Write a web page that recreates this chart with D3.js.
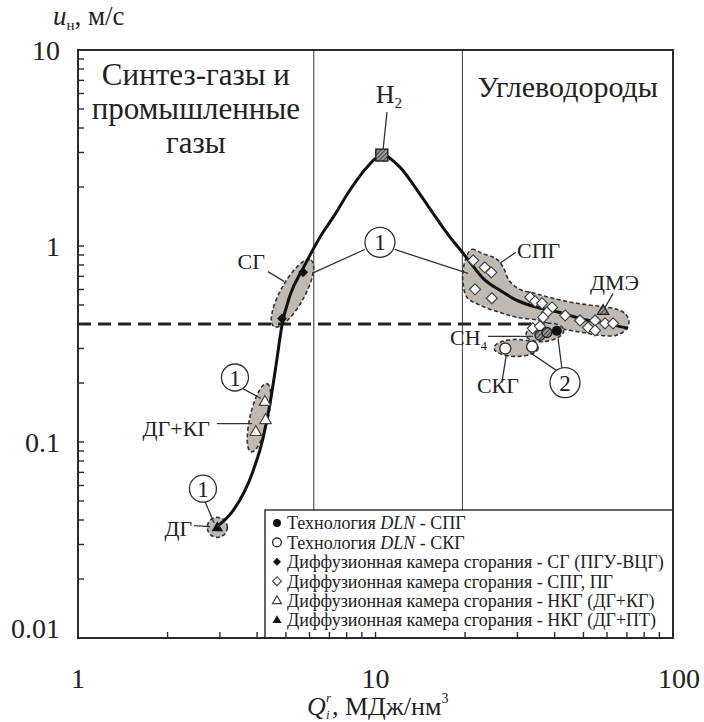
<!DOCTYPE html>
<html>
<head>
<meta charset="utf-8">
<script src="https://cdn.jsdelivr.net/npm/d3@7"></script>
<style>
  body { margin: 0; background: #fff; }
  svg { display: block; }
  svg text { font-family: "Liberation Serif", "Tinos", "DejaVu Serif", serif; fill: #222; }
</style>
</head>
<body>
<svg id="chart" width="704" height="722" font-family="Liberation Serif, serif"></svg>
<script>
// values (Q in MJ/nm3, u in m/s)
var xTicks = [1, 10, 100];
var xTickLabels = ["1", "10", "100"];
var yTicks = [10, 1, 0.1, 0.01];
var yTickLabels = ["10", "1", "0.1", "0.01"];
var regionBounds = [6.2, 19.6];
var uLimit = 0.4;
var uLimitEnd = 36;

// the main curve
var curveQ = [2.93, 3.32, 3.88, 4.19, 4.42, 4.63, 4.85, 5.16, 5.71, 6.66, 7.2, 8.21, 9.36, 10.5,
              12.1, 13.8, 15.6, 17.8, 19.7, 20.8, 23.0, 26.2, 29.9, 34.9, 41.7, 48.7, 59.1, 70.6];
var curveU = [0.037, 0.0446, 0.0714, 0.105, 0.157, 0.246, 0.394, 0.56, 0.769, 1.175, 1.4, 1.93, 2.52, 2.91,
              2.52, 1.93, 1.47, 1.11, 0.918, 0.825, 0.684, 0.594, 0.528, 0.486, 0.458, 0.427, 0.403, 0.38];

var h2Point = [10.5, 2.91];
var dmePoint = [58.2, 0.469];
var dlnSpg = [[40.7, 0.369]];
var dlnSkg = [[27.3, 0.300], [33.6, 0.307]];
var ch4Points = [[35.7, 0.350], [37.7, 0.362]];
var sgPoints = [[4.85, 0.427], [5.71, 0.734]];
var spgPoints = [[21.3, 0.845], [23.3, 0.778], [24.5, 0.734], [21.6, 0.601], [24.6, 0.541],
                 [33.1, 0.547], [34.4, 0.522], [36.3, 0.51], [39.2, 0.486], [37.7, 0.458],
                 [36.6, 0.432], [43.4, 0.442], [48.7, 0.417], [51.8, 0.384], [54.7, 0.417],
                 [54.7, 0.371], [59.1, 0.403], [62.9, 0.403], [33.8, 0.38], [35.7, 0.389]];
var dgKgPoints = [[4.25, 0.161], [4.27, 0.13], [3.96, 0.113]];
var dgPtPoints = [[2.94, 0.0367]];

// outline of the grey SPG zone
var spgZone = [[20.3, 0.896], [21.1, 0.962], [22.8, 0.918], [25.6, 0.855], [27.0, 0.769], [28.1, 0.668],
               [30.6, 0.601], [34.4, 0.573], [39.5, 0.541], [47.6, 0.51], [56.8, 0.492], [64.8, 0.475],
               [69.5, 0.448], [71.1, 0.407], [69.0, 0.371], [64.3, 0.35], [56.8, 0.35], [49.8, 0.362],
               [43.4, 0.375], [38.6, 0.398], [35.7, 0.417], [29.9, 0.432], [26.2, 0.458], [22.5, 0.498],
               [20.3, 0.547], [19.7, 0.645], [19.7, 0.751]];

var legendLabels = [
    ["Технология ", "DLN", " - СПГ"],
    ["Технология ", "DLN", " - СКГ"],
    ["Диффузионная камера сгорания - СГ (ПГУ-ВЦГ)"],
    ["Диффузионная камера сгорания - СПГ, ПГ"],
    ["Диффузионная камера сгорания - НКГ (ДГ+КГ)"],
    ["Диффузионная камера сгорания - НКГ (ДГ+ПТ)"]
];
var legendSymbols = ["dotFill", "dotOpen", "diaFill", "diaOpen", "triOpen", "triFill"];

var svg = d3.select("svg#chart");
// note: "top" is taken by window.top, so plot edges get their own names
var plotL = 78, plotR = 673, plotT = 50, plotB = 638;

var x = d3.scaleLog().domain([1, 100]).range([plotL, plotR]);
var y = d3.scaleLog().domain([0.01, 10]).range([plotB, plotT]);
var P = function (d) { return [x(d[0]), y(d[1])]; };

var ink = "#222";
var zoneFill = "#c0b9b1";

// hatch for H2 square and CH4 circles
var defs = svg.append("defs");
var hatch = defs.append("pattern")
    .attr("id", "hatch").attr("patternUnits", "userSpaceOnUse")
    .attr("width", 3).attr("height", 3).attr("patternTransform", "rotate(45)");
hatch.append("rect").attr("width", 3).attr("height", 3).attr("fill", "#999");
hatch.append("line").attr("x1", 0).attr("y1", 0).attr("x2", 0).attr("y2", 3)
    .attr("stroke", "#222").attr("stroke-width", 1.5);

// region separators
svg.selectAll("line.region").data(regionBounds).enter().append("line")
    .attr("x1", d => x(d)).attr("x2", d => x(d))
    .attr("y1", plotT).attr("y2", plotB)
    .attr("stroke", "#555").attr("stroke-width", 1.2);

// grey zones
svg.append("path")
    .datum(spgZone.map(P))
    .attr("d", d3.line().curve(d3.curveCatmullRomClosed.alpha(0.5)))
    .attr("fill", zoneFill).attr("stroke", "#333")
    .attr("stroke-width", 1.6).attr("stroke-dasharray", "4,2.5");

// ellipses: center in data units, radii in px
var ellipses = [
    { c: [2.94, 0.0367], rx: 10, ry: 10, a: 0 },
    { c: [4.06, 0.133], rx: 35, ry: 9, a: -77 },
    { c: [5.26, 0.573], rx: 38, ry: 12, a: -61 },
    { c: [37.1, 0.362], rx: 19, ry: 9, a: -8 },
    { c: [29.7, 0.302], rx: 22, ry: 8.5, a: 0 }
];
svg.selectAll("ellipse.zone").data(ellipses).enter().append("ellipse")
    .attr("transform", d => "translate(" + P(d.c) + ") rotate(" + d.a + ")")
    .attr("rx", d => d.rx).attr("ry", d => d.ry)
    .attr("fill", zoneFill).attr("stroke", "#333")
    .attr("stroke-width", 1.6).attr("stroke-dasharray", "4,2.5");

// u = 0.4 limit
svg.append("line")
    .attr("x1", x(1)).attr("x2", x(uLimitEnd))
    .attr("y1", y(uLimit)).attr("y2", y(uLimit))
    .attr("stroke", ink).attr("stroke-width", 3).attr("stroke-dasharray", "13,7");

// main curve - Q grows monotonically so monotoneX keeps it from overshooting
svg.append("path")
    .datum(curveQ.map((q, i) => [x(q), y(curveU[i])]))
    .attr("d", d3.line().curve(d3.curveMonotoneX))
    .attr("fill", "none").attr("stroke", "#111").attr("stroke-width", 3);

// leader lines (data units)
var leaders = [
    [[10.93, 4.82], [10.6, 3.08]],      // H2
    [[4.35, 0.74], [4.93, 0.66]],       // СГ
    [[29.6, 0.929], [26.2, 0.816]],     // СПГ
    [[62.9, 0.573], [59.1, 0.486]],     // ДМЭ
    [[23.9, 0.346], [33.8, 0.346]],     // CH4
    [[26.6, 0.201], [27.5, 0.276]],     // СКГ
    [[2.93, 0.124], [3.85, 0.124]],     // ДГ+КГ
    [[2.455, 0.0374], [2.78, 0.037]],   // ДГ
    [[9.2, 0.96], [6.12, 0.725]],       // 1 -> СГ
    [[11.6, 0.96], [20.46, 0.725]],     // 1 -> СПГ
    [[3.52, 0.19], [4.12, 0.1667]],     // 1 -> ДГ+КГ
    [[2.66, 0.0505], [2.865, 0.0387]],  // 1 -> ДГ
    [[41.6, 0.226], [33.06, 0.286]],    // 2 -> СКГ
    [[42.5, 0.227], [41.06, 0.3376]]    // 2 -> CH4
];
svg.selectAll("line.leader").data(leaders).enter().append("line")
    .attr("x1", d => x(d[0][0])).attr("y1", d => y(d[0][1]))
    .attr("x2", d => x(d[1][0])).attr("y2", d => y(d[1][1]))
    .attr("stroke", "#333").attr("stroke-width", 1.3);

// symbols
function diamond(r) { return "M0," + (-r) + "L" + r + ",0L0," + r + "L" + (-r) + ",0Z"; }
function triangle(r) { return "M0," + (-r) + "L" + (r * 0.95) + "," + (r * 0.65) + "L" + (-r * 0.95) + "," + (r * 0.65) + "Z"; }

function drawSym(g, kind, size) {
    var s = size || 1;
    if (kind === "dotFill") return g.append("circle").attr("r", 5 * s).attr("fill", "#111");
    if (kind === "dotOpen") return g.append("circle").attr("r", 5.5 * s).attr("fill", "#fff").attr("stroke", "#333").attr("stroke-width", 1.4);
    if (kind === "diaFill") return g.append("path").attr("d", diamond(5 * s)).attr("fill", "#111");
    if (kind === "diaOpen") return g.append("path").attr("d", diamond(5.5 * s)).attr("fill", "#fff").attr("stroke", "#444").attr("stroke-width", 1.2);
    if (kind === "triOpen") return g.append("path").attr("d", triangle(6 * s)).attr("fill", "#fff").attr("stroke", "#444").attr("stroke-width", 1.2);
    if (kind === "triFill") return g.append("path").attr("d", triangle(6 * s)).attr("fill", "#111");
}

var groups = [
    [spgPoints, "diaOpen"], [sgPoints, "diaFill"], [dgKgPoints, "triOpen"],
    [dgPtPoints, "triFill"], [dlnSkg, "dotOpen"], [dlnSpg, "dotFill"]
];
groups.forEach(function (gr) {
    gr[0].forEach(function (d) {
        var g = svg.append("g").attr("transform", "translate(" + P(d) + ")");
        drawSym(g, gr[1]);
    });
});

// CH4 points - hatched circles
svg.selectAll("circle.ch4").data(ch4Points).enter().append("circle")
    .attr("cx", d => x(d[0])).attr("cy", d => y(d[1])).attr("r", 5)
    .attr("fill", "url(#hatch)").attr("stroke", "#222").attr("stroke-width", 1.3);

// DME - hatched triangle
svg.append("path")
    .attr("transform", "translate(" + P(dmePoint) + ")")
    .attr("d", triangle(6)).attr("fill", "url(#hatch)").attr("stroke", "#222").attr("stroke-width", 1.2);

// H2 - hatched square
svg.append("rect")
    .attr("x", x(h2Point[0]) - 6).attr("y", y(h2Point[1]) - 6)
    .attr("width", 12).attr("height", 12)
    .attr("fill", "url(#hatch)").attr("stroke", "#222").attr("stroke-width", 1.4);

// numbered circles
var markers = [
    { c: [10.35, 1.044], t: "1", r: 15 },
    { c: [3.37, 0.2134], t: "1", r: 13.5 },
    { c: [2.63, 0.0578], t: "1", r: 13.5 },
    { c: [43.35, 0.201], t: "2", r: 15 }
];
var mk = svg.selectAll("g.mk").data(markers).enter().append("g")
    .attr("transform", d => "translate(" + P(d.c) + ")");
mk.append("circle").attr("r", d => d.r).attr("fill", "#fff").attr("stroke", "#333").attr("stroke-width", 1.3);
mk.append("text").attr("text-anchor", "middle").attr("dy", "0.35em")
    .attr("font-size", 23).text(d => d.t);

// labels
var labels = [
    { c: [4.25, 0.76], t: "СГ", anchor: "end" },
    { c: [29.9, 0.865], t: "СПГ", anchor: "start" },
    { c: [52.6, 0.594], t: "ДМЭ", anchor: "start" },
    { c: [25.8, 0.1768], t: "СКГ", anchor: "middle" },
    { c: [2.78, 0.1078], t: "ДГ+КГ", anchor: "end" },
    { c: [2.42, 0.0332], t: "ДГ", anchor: "end" }
];
svg.selectAll("text.lab").data(labels).enter().append("text")
    .attr("x", d => x(d.c[0])).attr("y", d => y(d.c[1]))
    .attr("text-anchor", d => d.anchor).attr("font-size", 22).text(d => d.t);

var ch4 = svg.append("text").attr("x", x(17.8)).attr("y", y(0.311)).attr("font-size", 22);
ch4.append("tspan").text("CH");
ch4.append("tspan").attr("font-size", 13).attr("dy", 5).text("4");

var h2 = svg.append("text").attr("x", x(11.1)).attr("y", y(5.36)).attr("font-size", 26).attr("text-anchor", "middle");
h2.append("tspan").text("H");
h2.append("tspan").attr("font-size", 15).attr("dy", 5).text("2");

// region titles
var col1 = (x(1) + x(regionBounds[0])) / 2;
var col3 = (x(regionBounds[1]) + x(100)) / 2;
["Синтез-газы и", "промышленные", "газы"].forEach(function (s, i) {
    svg.append("text").attr("x", col1).attr("y", plotT + 35 + i * 34)
        .attr("text-anchor", "middle").attr("font-size", 31).text(s);
});
svg.append("text").attr("x", col3).attr("y", plotT + 47)
    .attr("text-anchor", "middle").attr("font-size", 30).text("Углеводороды");

// legend
var lgTop = 510, lgLeft = 265;
svg.append("rect")
    .attr("x", lgLeft).attr("y", lgTop)
    .attr("width", plotR - lgLeft).attr("height", plotB - lgTop)
    .attr("fill", "#fff").attr("stroke", "#333").attr("stroke-width", 1.5);
legendLabels.forEach(function (parts, i) {
    var cy = lgTop + 13 + i * 19.4;
    var g = svg.append("g").attr("transform", "translate(" + (lgLeft + 12) + "," + cy + ")");
    drawSym(g, legendSymbols[i], 0.8);
    var t = svg.append("text").attr("x", lgLeft + 22).attr("y", cy).attr("dy", "0.35em").attr("font-size", 18);
    parts.forEach(function (p) {
        t.append("tspan").attr("font-style", p === "DLN" ? "italic" : null).text(p);
    });
});

// frame + inward minor ticks
svg.append("rect")
    .attr("x", plotL).attr("y", plotT).attr("width", plotR - plotL).attr("height", plotB - plotT)
    .attr("fill", "none").attr("stroke", "#2a2a2a").attr("stroke-width", 2);

var xMinor = x.ticks(), yMinor = y.ticks();
svg.selectAll("line.xt").data(xMinor.filter(d => d > 1 && d < 100)).enter().append("line")
    .attr("x1", d => x(d)).attr("x2", d => x(d))
    .attr("y1", plotB).attr("y2", plotB - 6)
    .attr("stroke", "#2a2a2a").attr("stroke-width", 1.4);
svg.selectAll("line.yt").data(yMinor.filter(d => d > 0.01 && d < 10)).enter().append("line")
    .attr("x1", plotL).attr("x2", plotL + 6)
    .attr("y1", d => y(d)).attr("y2", d => y(d))
    .attr("stroke", "#2a2a2a").attr("stroke-width", 1.4);

// tick labels
svg.selectAll("text.xl").data(xTicks).enter().append("text")
    .attr("x", (d, i) => x(d) + (i === 2 ? 6 : 0)).attr("y", plotB + 50)
    .attr("text-anchor", "middle").attr("font-size", 28)
    .text((d, i) => xTickLabels[i]);
svg.selectAll("text.yl").data(yTicks).enter().append("text")
    .attr("x", plotL - 18).attr("y", d => y(d))
    .attr("dy", (d, i) => i === 3 ? "0" : "0.35em")
    .attr("text-anchor", "end").attr("font-size", 28)
    .text((d, i) => yTickLabels[i]);

// axis titles
var yt = svg.append("text").attr("x", 53).attr("y", 25).attr("font-size", 27);
yt.append("tspan").attr("font-style", "italic").text("u");
yt.append("tspan").attr("font-size", 15).attr("dy", 5).text("н");
yt.append("tspan").attr("dy", -5).text(", м/с");

var xt = svg.append("g").attr("font-size", 26);
xt.append("text").attr("x", 307).attr("y", 715).attr("font-style", "italic").text("Q");
xt.append("text").attr("x", 326).attr("y", 719).attr("font-size", 13).attr("font-style", "italic").text("i");
xt.append("text").attr("x", 326).attr("y", 702).attr("font-size", 13).attr("font-style", "italic").text("r");
var xt2 = xt.append("text").attr("x", 332).attr("y", 715);
xt2.append("tspan").text(", МДж/нм");
xt2.append("tspan").attr("font-size", 14).attr("dy", -12).text("3");
</script>
</body>
</html>
